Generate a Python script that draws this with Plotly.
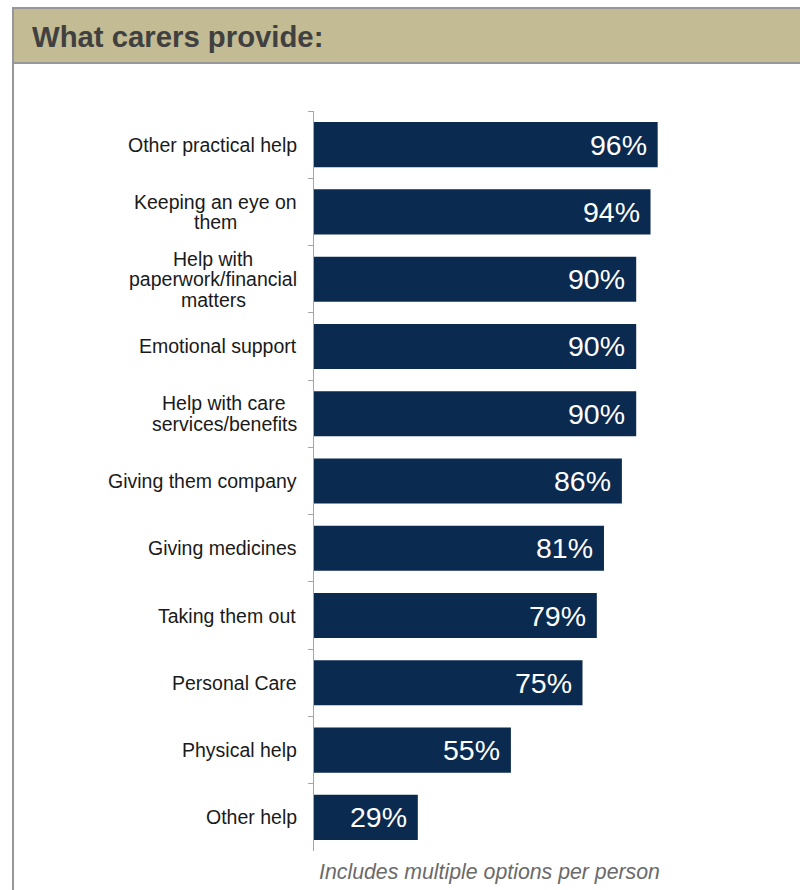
import plotly.graph_objects as go

# Survey results: share of carers providing each kind of help (%)
categories = [
    "Other practical help",
    "Keeping an eye on<br>them",
    "Help with<br>paperwork/financial<br>matters",
    "Emotional support",
    "Help with care<br>services/benefits",
    "Giving them company",
    "Giving medicines",
    "Taking them out",
    "Personal Care",
    "Physical help",
    "Other help",
]
values = [96, 94, 90, 90, 90, 86, 81, 79, 75, 55, 29]
value_labels = [f"{v}%" for v in values]

title_text = "What carers provide:"
footnote_text = "Includes multiple options per person"

W, H = 800, 890
ML, MR, MT, MB = 314, 128, 111, 39
PW, PH = W - ML - MR, H - MT - MB

FONT = "Liberation Sans, Arial"
LABEL_SIZE = 19.5
LINE_H = 20.5

# Arial advance widths (1/1000 em), used to centre lines of wrapped labels
ARIAL_W = {
    " ": 278, "a": 556, "b": 556, "c": 500, "d": 556, "e": 556, "f": 278,
    "g": 556, "h": 556, "i": 222, "j": 222, "k": 500, "l": 222, "m": 833,
    "n": 556, "o": 556, "p": 556, "q": 556, "r": 333, "s": 500, "t": 278,
    "u": 556, "v": 500, "w": 722, "x": 500, "y": 500, "z": 500, "/": 278,
    "H": 722, "K": 667, "E": 667, "O": 778, "G": 778, "T": 611, "P": 667,
    "C": 722,
}


def text_width(s, size):
    return sum(ARIAL_W.get(ch, 556) for ch in s) * size / 1000.0


def px_x(px):
    return (px - ML) / PW


def px_y(py):
    return (H - MB - py) / PH


BAR = "#0b2a4f"
GREY = "#97979b"

fig = go.Figure(
    go.Bar(
        x=values,
        y=categories,
        orientation="h",
        marker=dict(color=BAR, line=dict(width=0)),
        hoverinfo="skip",
    )
)

annotations = []
# category labels: block right-aligned at the axis, lines centred within it
LABEL_RIGHT = 297
for cat in categories:
    lines = cat.split("<br>")
    n = len(lines)
    block_w = max(text_width(l, LABEL_SIZE) for l in lines)
    centre = LABEL_RIGHT - block_w / 2
    for i, line in enumerate(lines):
        annotations.append(dict(
            x=px_x(centre), xref="paper", y=cat, yref="y",
            text=line, showarrow=False, xanchor="center", yanchor="middle",
            yshift=((n - 1) / 2 - i) * LINE_H,
            font=dict(family=FONT, size=LABEL_SIZE, color="#1a1a1a"),
        ))

# value labels inside the bar ends
for cat, v, lab in zip(categories, values, value_labels):
    annotations.append(dict(
        x=v, xref="x", y=cat, yref="y", text=lab, showarrow=False,
        xanchor="right", yanchor="middle", xshift=-9,
        font=dict(family=FONT, size=28.5, color="white"),
    ))

# header title and footnote
annotations.append(dict(
    x=px_x(30), xref="paper", y=px_y(37), yref="paper", text=f"<b>{title_text}</b>",
    showarrow=False, xanchor="left", yanchor="middle",
    font=dict(family=FONT, size=29.3, color="#404040"),
))
annotations.append(dict(
    x=px_x(317), xref="paper", y=px_y(872), yref="paper", text=f"<i>{footnote_text}</i>",
    showarrow=False, xanchor="left", yanchor="middle",
    font=dict(family=FONT, size=21.3, color="#6a6a6a"),
))

shapes = [
    # header band
    dict(type="rect", xref="paper", yref="paper",
         x0=px_x(12), x1=px_x(805), y0=px_y(63), y1=px_y(8),
         fillcolor="#c2bb94", line=dict(width=0), layer="below"),
    dict(type="line", xref="paper", yref="paper",
         x0=px_x(12), x1=px_x(805), y0=px_y(8), y1=px_y(8),
         line=dict(color=GREY, width=2)),
    dict(type="line", xref="paper", yref="paper",
         x0=px_x(12), x1=px_x(805), y0=px_y(63), y1=px_y(63),
         line=dict(color=GREY, width=2)),
    # left frame edge
    dict(type="line", xref="paper", yref="paper",
         x0=px_x(13), x1=px_x(13), y0=px_y(8), y1=px_y(895),
         line=dict(color=GREY, width=2)),
]

fig.update_layout(
    width=W, height=H,
    margin=dict(l=ML, r=MR, t=MT, b=MB),
    paper_bgcolor="white", plot_bgcolor="white",
    bargap=0.33,
    showlegend=False,
    annotations=annotations,
    shapes=shapes,
    xaxis=dict(range=[0, 100], visible=False, fixedrange=True),
    yaxis=dict(
        autorange="reversed", showticklabels=False, showgrid=False,
        showline=True, linecolor="#a6a6a6", linewidth=1,
        ticks="outside", ticklen=5, tickcolor="#a6a6a6", tickson="boundaries",
        zeroline=False,
    ),
)

fig.write_html("out.html")
